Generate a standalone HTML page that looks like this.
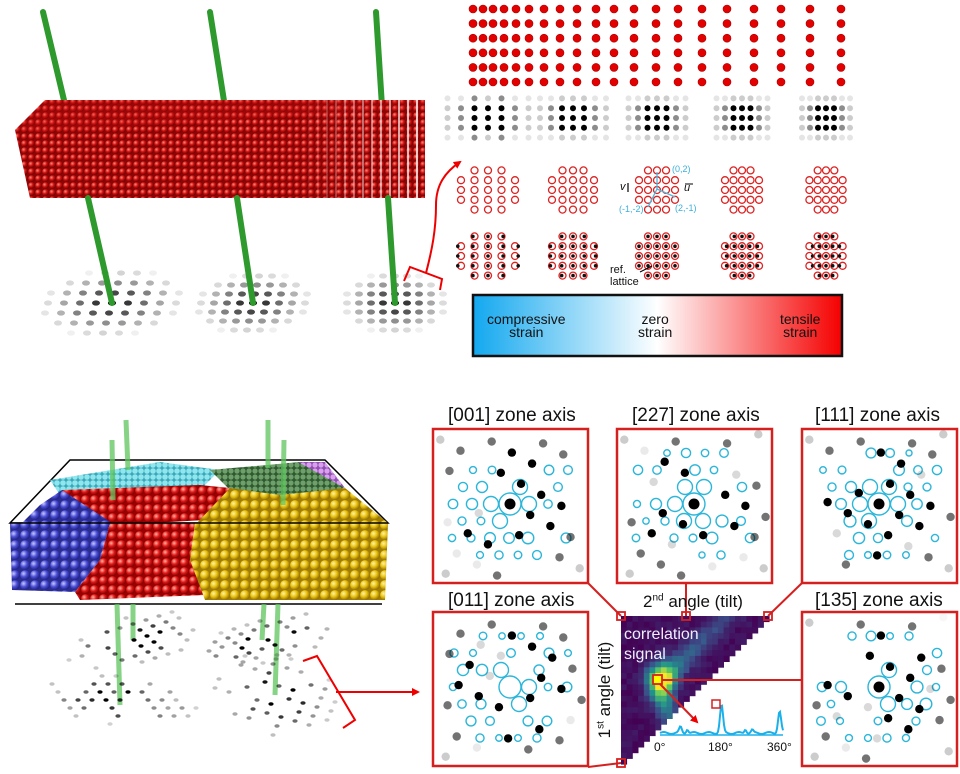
<!DOCTYPE html>
<html><head><meta charset="utf-8">
<style>
html,body{margin:0;padding:0;background:#fff;}
#c{position:relative;width:960px;height:774px;overflow:hidden;font-family:"Liberation Sans",sans-serif;}
svg{position:absolute;left:0;top:0;}
.t{position:absolute;font-size:19px;color:#111;white-space:nowrap;}
</style></head><body>
<div id="c">
<svg id="s" width="960" height="774" viewBox="0 0 960 774">
<defs>
<radialGradient id="rs" cx="0.35" cy="0.35" r="0.7"><stop offset="0" stop-color="#ff8a7a"/><stop offset="0.5" stop-color="#d01010"/><stop offset="1" stop-color="#6a0000"/></radialGradient>
<pattern id="pr" width="7" height="7" patternUnits="userSpaceOnUse"><rect width="7" height="7" fill="#8a0606"/><circle cx="3.5" cy="3.5" r="3.3" fill="url(#rs)"/></pattern>
<radialGradient id="gb" cx="0.35" cy="0.35" r="0.7"><stop offset="0" stop-color="#c8c8ff"/><stop offset="0.5" stop-color="#4b4fd6"/><stop offset="1" stop-color="#1c1e80"/></radialGradient>
<pattern id="pb" width="10" height="10" patternUnits="userSpaceOnUse"><rect width="10" height="10" fill="#2a2c90"/><circle cx="5" cy="5" r="4.8" fill="url(#gb)"/></pattern>
<radialGradient id="gr" cx="0.35" cy="0.35" r="0.7"><stop offset="0" stop-color="#ffb0a0"/><stop offset="0.5" stop-color="#e01818"/><stop offset="1" stop-color="#7a0000"/></radialGradient>
<pattern id="pR" width="9" height="9" patternUnits="userSpaceOnUse"><rect width="9" height="9" fill="#900"/><circle cx="4.5" cy="4.5" r="4.4" fill="url(#gr)"/></pattern>
<radialGradient id="gy" cx="0.35" cy="0.35" r="0.7"><stop offset="0" stop-color="#fff4a0"/><stop offset="0.5" stop-color="#e8c010"/><stop offset="1" stop-color="#8a6a00"/></radialGradient>
<pattern id="pY" width="10" height="10" patternUnits="userSpaceOnUse"><rect width="10" height="10" fill="#a07c00"/><circle cx="5" cy="5" r="4.9" fill="url(#gy)"/></pattern>
<pattern id="pc" width="6" height="6" patternUnits="userSpaceOnUse"><rect width="6" height="6" fill="#3aa8b8"/><circle cx="3" cy="3" r="2.8" fill="#8fe6ee"/></pattern>
<pattern id="pg" width="6" height="6" patternUnits="userSpaceOnUse"><rect width="6" height="6" fill="#2f5a2f"/><circle cx="3" cy="3" r="2.6" fill="#6f9f6a"/></pattern>
<pattern id="pp" width="6" height="6" patternUnits="userSpaceOnUse"><rect width="6" height="6" fill="#9050b0"/><circle cx="3" cy="3" r="2.6" fill="#d9a0ee"/></pattern>
<linearGradient id="cb" x1="0" x2="1"><stop offset="0" stop-color="#12a8ef"/><stop offset="0.5" stop-color="#ffffff"/><stop offset="1" stop-color="#f50000"/></linearGradient>
<marker id="ar" markerWidth="8" markerHeight="8" refX="6" refY="4" orient="auto" markerUnits="userSpaceOnUse"><path d="M0,0 L8,4 L0,8 z" fill="#e00"/></marker>
</defs>
<g id="g"></g>
</svg>
<div class="t" style="left:448px;top:405px;">[001] zone axis</div>
<div class="t" style="left:632px;top:405px;">[227] zone axis</div>
<div class="t" style="left:815px;top:405px;">[111] zone axis</div>
<div class="t" style="left:448px;top:590px;">[011] zone axis</div>
<div class="t" style="left:815px;top:590px;">[135] zone axis</div>
<div class="t" style="left:643px;top:592px;font-size:17px;">2<sup style="font-size:10px">nd</sup> angle (tilt)</div>
<div class="t" style="left:540px;top:680px;font-size:17px;transform:rotate(-90deg);transform-origin:50% 50%;width:130px;text-align:center;">1<sup style="font-size:10px">st</sup> angle (tilt)</div>
<div class="t" style="left:624px;top:625px;font-size:16px;color:#eef;line-height:20px;">correlation<br>signal</div>
<div class="t" style="left:654px;top:740px;font-size:12px;">0°</div>
<div class="t" style="left:708px;top:740px;font-size:12px;">180°</div>
<div class="t" style="left:767px;top:740px;font-size:12px;">360°</div>
<div class="t" style="left:487px;top:313px;font-size:14px;line-height:13px;text-align:center;">compressive<br>strain</div>
<div class="t" style="left:638px;top:313px;font-size:14px;line-height:13px;text-align:center;">zero<br>strain</div>
<div class="t" style="left:780px;top:313px;font-size:14px;line-height:13px;text-align:center;">tensile<br>strain</div>
<div class="t" style="left:610px;top:264px;font-size:11px;line-height:12px;">ref.<br>lattice</div>
<div class="t" style="left:620px;top:181px;font-size:11px;font-style:italic;">v</div>
<div class="t" style="left:684px;top:182px;font-size:11px;font-style:italic;">u</div>
<div class="t" style="left:672px;top:164px;font-size:9px;color:#3ab0dc;">(0,2)</div>
<div class="t" style="left:619px;top:204px;font-size:9px;color:#3ab0dc;">(-1,-2)</div>
<div class="t" style="left:675px;top:203px;font-size:9px;color:#3ab0dc;">(2,-1)</div>
</div>
<script>
var g=document.getElementById('g'),NS='http://www.w3.org/2000/svg';
function el(t,a){var e=document.createElementNS(NS,t);for(var k in a)e.setAttribute(k,a[k]);g.appendChild(e);return e;}
var seed=7;function rnd(){seed=(seed*16807)%2147483647;return seed/2147483647;}
function diff(cx,cy,sx,sy,sk){for(var i=-4;i<=4;i++)for(var j=-3;j<=3;j++){var x=cx+i*sx+j*sk,y=cy+j*sy;var d=Math.sqrt(i*i*0.6+j*j);var v=Math.max(0,1-d/3.6);if(v<0.05)continue;el('ellipse',{cx:x,cy:y,rx:4,ry:2.6,fill:'#000','fill-opacity':v.toFixed(2)});}}
diff(112,303,16,10,-3);diff(253,303,13,9,-2);diff(395,303,12,9,0);
function beam(x1,y1,x2,y2,w){el('line',{x1:x1,y1:y1,x2:x2,y2:y2,stroke:'#2e9a2e','stroke-width':w,'stroke-linecap':'round'});}
beam(43,12,68,117,6);beam(210,12,227,120,6);beam(376,12,383,122,6);
el('polygon',{points:'15,130 45,100 425,100 425,198 30,198',fill:'url(#pr)'});
el('polygon',{points:'15,130 45,100 425,100 425,108 40,132',fill:'#c21010','fill-opacity':'0.25'});
for(var x=300;x<425;x+=9)el('line',{x1:x,y1:100,x2:x,y2:198,stroke:'#fff','stroke-width':Math.max(0,(x-300)/60),'stroke-opacity':0.8});
beam(88,198,112,303,6);beam(237,198,253,303,6);beam(388,198,395,303,6);
el('polyline',{points:'404,281 410,267 442,279 440,290',fill:'none',stroke:'#e00','stroke-width':2});
el('path',{d:'M426,273 C432,250 436,230 436,205 C436,185 445,172 460,162',fill:'none',stroke:'#e00','stroke-width':2,'marker-end':'url(#ar)'});
var xs=[473,483,493,504,516,529,544,560,577,596,614,634,656,678,702,727,754,781,810,841];
for(var r=0;r<6;r++)for(var i=0;i<xs.length;i++)el('circle',{cx:xs[i],cy:9+r*14.6,r:4,fill:'#e30000',stroke:'#a00','stroke-width':0.6});
var pc=[488,573,657,742,826],sp=[13.5,11,9.5,8.5,8];
for(var k=0;k<5;k++){for(var i=-3;i<=3;i++)for(var j=-2;j<=2;j++){var ai=Math.abs(i),aj=Math.abs(j);var v;if(ai<=1&&aj<=1)v=1;else if(ai<=1||aj<=1)v=(ai>=3||aj>=2)?0.2:0.45;else v=0.1;if(k==0&&ai==1&&aj==2)v=0.45;el('circle',{cx:pc[k]+i*sp[k],cy:118+j*9.8,r:3,fill:'#000','fill-opacity':v});}}
var rx=[[-1,0,1],[-2,-1,0,1,2],[-2,-1,0,1,2],[-2,-1,0,1,2],[-1,0,1]];
var rsp=[13.5,10.5,9,8.5,8.3];
for(var row=0;row<2;row++)for(var k=0;k<5;k++)for(var j=0;j<5;j++)for(var q=0;q<rx[j].length;q++){var x=pc[k]+rx[j][q]*rsp[k],y=(row?256:190)+(j-2)*9.8;el('circle',{cx:x,cy:y,r:3.5,fill:'none',stroke:'#d22','stroke-width':1.3});if(row)el('circle',{cx:x+(rx[j][q]*(2-k)*0.8),cy:y,r:1.8,fill:'#111'});}
el('line',{x1:657,y1:189,x2:657,y2:172,stroke:'#4ab8e0','stroke-width':1.3});
el('line',{x1:657,y1:189,x2:648,y2:207,stroke:'#4ab8e0','stroke-width':1.3});
el('line',{x1:657,y1:189,x2:675,y2:197,stroke:'#4ab8e0','stroke-width':1.3});
el('line',{x1:628,y1:192,x2:628,y2:183,stroke:'#000','stroke-width':1.2});
el('line',{x1:685,y1:184,x2:693,y2:184,stroke:'#000','stroke-width':1});
el('line',{x1:640,y1:272,x2:652,y2:266,stroke:'#000','stroke-width':1});
el('rect',{x:473,y:295,width:369,height:61,fill:'url(#cb)',stroke:'#111','stroke-width':2.5});
el('polygon',{points:'70,460 325,460 388,523 10,523',fill:'#fff',stroke:'#000','stroke-width':1.5});
el('polygon',{points:'50,480 160,462 220,470 200,490 60,495',fill:'url(#pc)'});
el('polygon',{points:'210,470 300,462 345,488 280,500 230,490',fill:'url(#pg)'});
el('polygon',{points:'298,462 325,462 345,488',fill:'url(#pp)'});
el('polygon',{points:'40,505 62,490 100,510 115,525 20,525',fill:'url(#pb)'});
el('polygon',{points:'62,490 200,485 230,488 205,520 115,525',fill:'url(#pR)'});
el('polygon',{points:'230,488 280,495 345,488 388,523 195,525',fill:'url(#pY)'});
el('polygon',{points:'10,523 110,523 100,560 75,592 12,590',fill:'url(#pb)'});
el('polygon',{points:'110,523 195,523 190,560 205,595 80,600 75,592 100,560',fill:'url(#pR)'});
el('polygon',{points:'195,523 388,523 385,600 205,600 190,560',fill:'url(#pY)'});
el('line',{x1:10,y1:523,x2:388,y2:523,stroke:'#000','stroke-width':1.5});
el('line',{x1:15,y1:604,x2:382,y2:604,stroke:'#000','stroke-width':1.5});
function gb(x1,y1,x2,y2){el('line',{x1:x1,y1:y1,x2:x2,y2:y2,stroke:'#5ec45e','stroke-width':5,'stroke-opacity':0.75});}
gb(126,420,128,470);gb(112,440,113,500);gb(268,420,268,468);gb(284,440,283,505);
gb(117,604,120,705);gb(133,604,133,640);gb(264,604,262,640);gb(278,604,275,695);
function ddots(cx,cy,ax,ay,bx,by,n,m){for(var i=-n;i<=n;i++)for(var j=-m;j<=m;j++){var x=cx+i*ax+j*bx,y=cy+i*ay+j*by;var d=Math.sqrt(i*i/(n*n)+j*j/(m*m));var v=Math.max(0,1-d)*(0.5+0.5*rnd());if(v<0.12||rnd()<0.3)continue;el('ellipse',{cx:x,cy:y,rx:2.6,ry:1.7,fill:'#000','fill-opacity':Math.min(1,v*1.5).toFixed(2)});}}
ddots(120,700,14,0,6,8,6,4);ddots(134,640,13,-4,7,6,6,4);ddots(275,695,14,4,-4,9,5,5);ddots(268,640,13,-4,7,5,6,4);
el('polyline',{points:'303,661 317,656 355,720 343,728',fill:'none',stroke:'#e00','stroke-width':2});
el('line',{x1:336,y1:692,x2:418,y2:692,stroke:'#e00','stroke-width':2,'marker-end':'url(#ar)'});
function panel(x,y,s){seed=s;el('rect',{x:x,y:y,width:155,height:154,fill:'#fff',stroke:'#d62020','stroke-width':2.5});var cx=x+77,cy=y+75;
var a=rnd();
el('circle',{cx:cx,cy:cy,r:11,fill:'none',stroke:'#2bb6da','stroke-width':1.4});
for(var i=-4;i<=4;i++)for(var j=-4;j<=4;j++){if(i==0&&j==0)continue;var px=cx+(i*19+j*9)*Math.cos(a)-j*17*Math.sin(a),py=cy+(i*19+j*9)*Math.sin(a)+j*17*Math.cos(a);var d=Math.hypot(px-cx,py-cy);if(px<x+10||px>x+145||py<y+10||py>y+144)continue;if(d<68&&rnd()<0.6){var rr=d<30?7.5:(d<50?6:5)*(0.6+0.4*rnd());el('circle',{cx:px,cy:py,r:rr,fill:'none',stroke:'#2bb6da','stroke-width':1.4});}}
var b=a+0.5;for(var i=-4;i<=4;i++)for(var j=-4;j<=4;j++){var px=cx+i*23*Math.cos(b)-j*23*Math.sin(b),py=cy+i*23*Math.sin(b)+j*23*Math.cos(b);if(px<x+6||px>x+149||py<y+4||py>y+148)continue;var d=Math.hypot(px-cx,py-cy);var v=d<55?1:(d<85?0.55:0.2);if(rnd()<0.3)continue;if(rnd()<0.2)v*=0.15;el('circle',{cx:px,cy:py,r:d<5?5.5:4.2,fill:'#000','fill-opacity':v});}}
panel(433,429,11);panel(617,429,23);panel(802,429,37);panel(433,612,53);panel(802,612,71);
function vir(t){var c=[[68,1,84],[59,82,139],[33,145,140],[94,201,98],[253,231,37]];t=Math.max(0,Math.min(1,t))*4;var i=Math.min(3,Math.floor(t)),f=t-i;return 'rgb('+c[i].map(function(v,k){return Math.round(v+(c[i+1][k]-v)*f)}).join(',')+')';}
var X0=621,Y0=616,N=26,cs=5.7;seed=99;
for(var r=0;r<N;r++)for(var q=0;q<N-r;q++){var x=X0+q*cs,y=Y0+r*cs;var u=(x-658)/13,w=(y-678)/17;
var t=0.85*Math.exp(-(u*u+w*w));
var dx=x-658,dy=y-680;var along=(dx-dy)/1.414,perp=(dx+dy)/1.414;
if(along>0)t+=0.45*Math.exp(-perp*perp/120)*Math.exp(-along/80);
if(along<0)t+=0.35*Math.exp(-Math.pow(x-X0-(y-Y0)*0.25-20,2)/120)*Math.exp(-Math.pow(y-700,2)/1200);
t+=0.08*rnd();el('rect',{x:x,y:y,width:cs+0.4,height:cs+0.4,fill:vir(t)});}
var R='#d62020';
function ln(a,b,c,d){el('line',{x1:a,y1:b,x2:c,y2:d,stroke:R,'stroke-width':2});}
ln(588,583,621,616);ln(686,583,686,616);ln(802,583,768,616);ln(588,767,621,763);ln(658,680,802,680);
[[621,616],[686,616],[768,616],[621,763]].forEach(function(p){el('rect',{x:p[0]-4,y:p[1]-4,width:8,height:8,fill:'none',stroke:R,'stroke-width':1.8});});
el('rect',{x:653,y:675,width:9,height:9,fill:'#ff0',stroke:R,'stroke-width':1.8});
el('line',{x1:660,y1:684,x2:697,y2:722,stroke:R,'stroke-width':2,'marker-end':'url(#ar)'});
var pts=[];for(var x=660;x<=783;x++){var t=(x-660)/123*360;var y=733-6*Math.exp(-Math.pow(t-60,2)/30)-28*Math.exp(-Math.pow(t-180,2)/40)-22*Math.exp(-Math.pow(t-350,2)/40)-4*Math.exp(-Math.pow(t-80,2)/20)-4*Math.exp(-Math.pow(t-250,2)/20)-3*Math.exp(-Math.pow(t-270,2)/20)-1*Math.sin(t/7);pts.push(x+','+y.toFixed(1));}
el('polyline',{points:pts.join(' '),fill:'none',stroke:'#1ab0ea','stroke-width':2});
el('line',{x1:660,y1:735,x2:783,y2:735,stroke:'#1ab0ea','stroke-width':1.5});
el('rect',{x:712,y:700,width:8,height:8,fill:'none',stroke:R,'stroke-width':1.5});
</script>
</body></html>
